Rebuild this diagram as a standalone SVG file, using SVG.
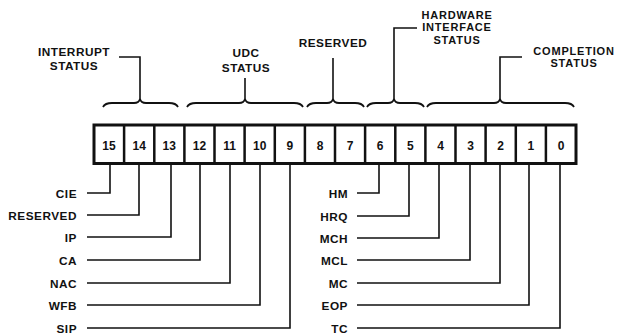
<svg xmlns="http://www.w3.org/2000/svg" width="625" height="335" viewBox="0 0 625 335">
<style>
text{font-family:"Liberation Sans",Arial,sans-serif;font-weight:bold;fill:#111;font-size:11.8px;letter-spacing:0.5px}
.c{text-anchor:middle}
.r{text-anchor:end}
.h{font-size:11px;letter-spacing:0.8px}
.n{font-size:12px;text-anchor:middle;letter-spacing:0}
.ln{fill:none;stroke:#111;stroke-width:1.6;stroke-linejoin:miter}
.br{fill:none;stroke:#111;stroke-width:1.8}
.box{fill:#fff;stroke:#111;stroke-width:3}
.div{stroke:#111;stroke-width:2.5}
</style>
<rect width="625" height="335" fill="#fff"/>
<g id="register">
<rect class="box" x="94" y="125" width="482" height="38.5"/>
<path class="div" d="M124.1 125V163.5M154.3 125V163.5M184.4 125V163.5M214.5 125V163.5M244.6 125V163.5M274.8 125V163.5M304.9 125V163.5M335 125V163.5M365.1 125V163.5M395.3 125V163.5M425.4 125V163.5M455.5 125V163.5M485.6 125V163.5M515.8 125V163.5M545.9 125V163.5"/>
<text class="n" x="109" y="150">15</text>
<text class="n" x="139.2" y="150">14</text>
<text class="n" x="169.3" y="150">13</text>
<text class="n" x="199.5" y="150">12</text>
<text class="n" x="229.6" y="150">11</text>
<text class="n" x="259.7" y="150">10</text>
<text class="n" x="289.8" y="150">9</text>
<text class="n" x="320" y="150">8</text>
<text class="n" x="350.1" y="150">7</text>
<text class="n" x="380.2" y="150">6</text>
<text class="n" x="410.3" y="150">5</text>
<text class="n" x="440.5" y="150">4</text>
<text class="n" x="470.6" y="150">3</text>
<text class="n" x="500.7" y="150">2</text>
<text class="n" x="530.8" y="150">1</text>
<text class="n" x="561" y="150">0</text>
</g>
<g id="group-interrupt">
<path class="br" d="M103 107Q105 103 112 103H134Q139 103 140 99Q141 103 146 103H169Q176 103 178 107"/>
<path class="ln" d="M140 100V57H119"/>
<text class="c" x="74" y="55.5">INTERRUPT</text>
<text class="c" x="74" y="69.5">STATUS</text>
</g>
<g id="group-udc">
<path class="br" d="M187 107Q189 103 196 103H239Q244 103 245 99Q246 103 251 103H294Q301 103 303 107"/>
<path class="ln" d="M245 100V78"/>
<text class="c" x="246" y="57">UDC</text>
<text class="c" x="246" y="71.5">STATUS</text>
</g>
<g id="group-reserved">
<path class="br" d="M307 107Q309 103 316 103H327Q332 103 333 99Q334 103 339 103H355Q362 103 364 107"/>
<path class="ln" d="M333 100V58"/>
<text class="c" x="333" y="47">RESERVED</text>
</g>
<g id="group-hardware">
<path class="br" d="M367 107Q369 103 376 103H388Q393 103 394 99Q395 103 400 103H415Q422 103 424 107"/>
<path class="ln" d="M394 100V28H417"/>
<text class="c h" x="457" y="19">HARDWARE</text>
<text class="c h" x="457" y="31.3">INTERFACE</text>
<text class="c h" x="457" y="43.6">STATUS</text>
</g>
<g id="group-completion">
<path class="br" d="M427 107Q429 103 436 103H494Q499 103 500 99Q501 103 506 103H565Q572 103 574 107"/>
<path class="ln" d="M500 100V57H522"/>
<text class="c h" x="574" y="55">COMPLETION</text>
<text class="c h" x="574" y="67.3">STATUS</text>
</g>
<g id="connectors">
<path class="ln" d="M110 164V193H87"/>
<path class="ln" d="M139 164V215H87"/>
<path class="ln" d="M171 164V237H87"/>
<path class="ln" d="M200 164V260H87"/>
<path class="ln" d="M230 164V283H87"/>
<path class="ln" d="M260 164V305H87"/>
<path class="ln" d="M290 164V328H87"/>
<path class="ln" d="M379 164V193H357"/>
<path class="ln" d="M409 164V216H357"/>
<path class="ln" d="M439 164V238H357"/>
<path class="ln" d="M470 164V260H357"/>
<path class="ln" d="M500 164V283H357"/>
<path class="ln" d="M529 164V305H357"/>
<path class="ln" d="M560 164V328H357"/>
</g>
<g id="labels-left">
<text class="r" x="77" y="197.5">CIE</text>
<text class="r" x="77" y="219.5">RESERVED</text>
<text class="r" x="77" y="241.5">IP</text>
<text class="r" x="77" y="264.5">CA</text>
<text class="r" x="77" y="287.5">NAC</text>
<text class="r" x="77" y="309.5">WFB</text>
<text class="r" x="77" y="332.5">SIP</text>
</g>
<g id="labels-right">
<text class="r" x="348" y="197.5">HM</text>
<text class="r" x="348" y="220.5">HRQ</text>
<text class="r" x="348" y="242.5">MCH</text>
<text class="r" x="348" y="264.5">MCL</text>
<text class="r" x="348" y="287.5">MC</text>
<text class="r" x="348" y="309.5">EOP</text>
<text class="r" x="348" y="332.5">TC</text>
</g>
</svg>
